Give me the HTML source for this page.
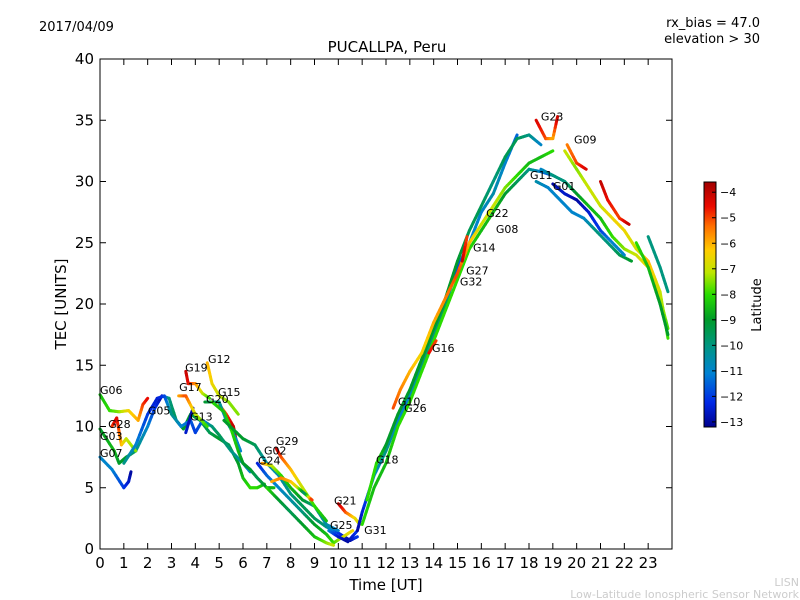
<!DOCTYPE html>
<html><head><meta charset="utf-8"><style>
body{margin:0;background:#fff}
svg{display:block;font-family:"DejaVu Sans","Liberation Sans",sans-serif}
</style></head><body>
<svg id="chart" width="800" height="600">
<rect width="800" height="600" fill="#fff"/>
<text x="39" y="31" font-size="13">2017/04/09</text>
<text x="760" y="27" font-size="13" text-anchor="end">rx_bias = 47.0</text>
<text x="760" y="43" font-size="13" text-anchor="end">elevation &gt; 30</text>
<text x="387" y="52" font-size="15" text-anchor="middle">PUCALLPA, Peru</text>
<g id="plot"></g>
<rect x="100" y="59" width="572" height="490" fill="none" stroke="#000" stroke-width="1"/>
<g id="axes"></g>
<text x="386" y="590" font-size="15" text-anchor="middle">Time [UT]</text>
<text transform="translate(66,304) rotate(-90)" font-size="15" text-anchor="middle">TEC [UNITS]</text>
<g id="cbar"></g>
<text transform="translate(761,305) rotate(-90)" font-size="13" text-anchor="middle">Latitude</text>
<text x="799" y="586" font-size="11" fill="#ccc" text-anchor="end">LISN</text>
<text x="799" y="598" font-size="11" fill="#ccc" text-anchor="end">Low-Latitude Ionospheric Sensor Network</text>
</svg>
<script>
const xTicks=[0,1,2,3,4,5,6,7,8,9,10,11,12,13,14,15,16,17,18,19,20,21,22,23];
const yTicks=[0,5,10,15,20,25,30,35,40];
const cTicks=[-4,-5,-6,-7,-8,-9,-10,-11,-12,-13];
const latMin=-13.2, latMax=-3.6;
// tracks: each point [time, tec, latitude]
const trackA=[[0,7.5,-11],[0.5,6.5,-11],[1,5,-12],[1.2,5.5,-12.5],[1.3,6.3,-13]];
const trackB=[[0,9.8,-9],[0.6,8,-8.5],[0.8,7,-9],[1.1,7.5,-9],[1.5,8,-10],[2,10,-11],[2.3,11.5,-12],[2.6,12.5,-13],[2.9,12.3,-10],[3.2,10.5,-9.5],[3.5,9.8,-9],[3.8,11,-9],[4.2,10.5,-9.5],[4.6,9.5,-9.5],[5,9,-9],[5.4,8.5,-9.5],[5.8,7,-9],[6,5.8,-8.5],[6.3,5,-8],[6.6,5,-8],[6.9,5.3,-8.5]];
const trackC=[[0,12.6,-8.5],[0.4,11.3,-8],[0.8,11.2,-7.5],[1.2,11.3,-6.5],[1.6,10.5,-6],[1.8,11.8,-5],[2.0,12.3,-4.5]];
const trackD=[[0.5,10,-5],[0.7,10.7,-4.3],[0.9,8.5,-6],[1.1,9,-7],[1.5,8,-7.5]];
const trackE=[[1,7,-10],[1.5,8.5,-11],[2,11,-12],[2.4,12.3,-12.5],[2.7,12.5,-12],[3,11,-10],[3.4,10,-11],[3.8,10.5,-11.5],[4.0,9.5,-12],[4.3,10.5,-11.5],[4.7,10,-10],[5,9.3,-9.5],[5.5,8,-10],[6,7,-10.5],[6.3,6.3,-11]];
const trackG13=[[3.6,9.5,-12.5],[3.9,11.5,-13]];
const trackG17=[[3.3,12.5,-6],[3.6,12.5,-5],[4,11,-7],[4.5,10,-8]];
const trackG19=[[3.6,14.5,-4],[3.7,13.5,-4.5],[4,13.5,-5.5],[4.3,12.7,-7],[4.6,12.3,-8]];
const trackG12=[[4.5,15.2,-6],[4.7,13.5,-6.5],[5,12.5,-7],[5.4,12,-7.5],[5.8,11,-7.5]];
const trackG15=[[5,11.8,-6],[5.3,11,-5],[5.6,10,-4],[5.7,9,-4]];
const trackG20a=[[4.4,12,-9],[5,12,-10],[5.3,10.5,-11],[5.7,9,-11],[5.9,8,-11]];
const trackG20b=[[4.7,12,-8],[5.2,11.2,-8.5],[5.5,9.8,-8],[5.8,8,-8.5],[6,7,-9],[6.3,6.5,-9],[6.6,5.8,-9.5],[7,5,-9],[7.3,5,-8.5]];
const trackF=[[5.2,10.5,-9],[6,9,-9],[6.5,8.5,-9.5],[7,7,-10.5],[7.5,6,-10.5],[8,4.5,-10],[8.5,3.5,-9.5],[9,2.5,-9.5],[9.5,1.8,-10],[10,1.3,-12],[10.5,0.7,-13],[10.8,1,-12]];
const trackG24=[[6.6,7,-12.5],[7,6,-11.5],[7.5,5,-11],[8,4,-10.5],[8.5,3,-10],[9,2,-9],[9.5,1.2,-8.5],[9.8,0.5,-8],[10.2,1,-7],[10.6,1.5,-6.5]];
const trackG02=[[6.8,7,-5.5],[7.2,6.8,-7],[7.6,6,-8],[8,5,-8.5],[8.5,4,-9],[9,3.5,-10],[9.5,2,-10.5],[10,1.5,-11]];
const trackG29=[[7.4,8.2,-4],[7.6,7.5,-5],[8,6.5,-6],[8.5,5,-7],[9,3.5,-8],[9.5,2.3,-8.5]];
const trackH=[[7.2,5.5,-6],[7.6,5.8,-5.5],[8,5.5,-6],[8.3,5,-7],[8.6,4.5,-10],[8.9,4,-4.5]];
const trackI=[[7,5,-8],[7.5,4,-9],[8,3,-9.5],[8.5,2,-9],[9,1,-8.5],[9.5,0.5,-7.5],[9.8,0.3,-7]];
const trackG21=[[10,3.7,-4],[10.3,3,-5],[10.7,2.5,-6.5],[10.9,2,-7]];
const trackG25=[[9.6,1.5,-11],[10,1,-12.5],[10.4,0.6,-13],[10.8,1.5,-12]];
const trackR1=[[10.8,1.5,-13],[11,3,-12.5],[11.5,6,-11],[12,8,-10],[12.5,10.5,-11],[13,12.5,-11],[13.5,15,-10],[14,17.5,-10],[14.5,20,-9.5],[15,23,-12],[15.5,25,-11],[16,27.5,-11],[16.5,29,-10.5],[17,31.5,-11],[17.5,33.8,-11.5]];
const trackR2=[[11.2,4,-8],[11.6,7,-8],[12,8.5,-9],[12.5,11,-9],[13,13,-9],[13.5,15.5,-9],[14,18,-9],[14.5,20.5,-9],[15,23.5,-9],[15.5,26,-9.5],[16,28,-9.5],[16.5,30,-10],[17,32,-9.5],[17.5,33.5,-9.5],[18,33.8,-10],[18.5,33,-11]];
const trackR3=[[12.3,11.5,-5],[12.6,13,-5.5],[13,14.5,-6],[13.5,16,-6.5],[14,18.5,-6],[14.5,20.5,-5.5],[15,22.5,-5],[15.5,25,-6],[16,26.5,-7],[16.5,28,-7],[17,29.5,-7.5],[17.5,30.5,-8],[18,31.5,-8.5],[18.5,32,-8.5],[19,32.5,-8]];
const trackR4=[[11,2,-8],[11.5,5,-8.5],[12,7,-8.5],[12.5,10,-8],[13,12,-8],[13.5,14.5,-8],[14,17,-8],[14.5,19.5,-8],[15,22,-8],[15.5,24.5,-8],[16,26,-8.5],[16.5,27.5,-8.5],[17,29,-9],[17.5,30,-9.5],[18,31,-10],[18.5,30.8,-11],[19,30.5,-12]];
const trackG16=[[13.8,16,-4.5],[14.1,17,-5]];
const trackG32=[[15.2,23.5,-4],[15.4,25.5,-5]];
const trackG23=[[18.3,35,-4.3],[18.7,33.5,-5],[19,33.5,-6],[19.2,35.3,-4]];
const trackG09=[[19.6,33,-5.5],[20,31.5,-5],[20.4,31,-4.3]];
const trackD1=[[19,29.8,-13],[19.5,29,-12.5],[20,28.5,-13],[20.5,27.5,-12.5],[21,26,-12],[21.5,25,-11],[22,24,-11]];
const trackD2=[[18.3,30,-10.5],[18.8,29.5,-11],[19.3,28.5,-11],[19.8,27.5,-11],[20.3,27,-11],[20.8,26,-10],[21.3,25,-10],[21.8,24,-9.5],[22.3,23.5,-9]];
const trackD3=[[18.5,31,-11],[19,30.5,-10],[19.5,30,-10],[20,29,-9],[20.5,28,-8.5],[21,27,-8.5],[21.5,25.5,-8],[22,24.5,-7.5],[22.5,24,-7],[23,23,-6.5],[23.3,22,-6],[23.83,18,-8]];
const trackD4=[[19.5,32.5,-7],[20,31,-7.5],[20.5,29.5,-7],[21,28,-7],[21.5,27,-6.5],[22,26,-6.5],[22.5,24.5,-7],[23,23.5,-6],[23.5,21,-7],[23.83,17.2,-8]];
const trackRed=[[21,30,-4],[21.3,28.5,-4.5],[21.8,27,-5],[22.2,26.5,-4]];
const trackT=[[23,25.5,-10],[23.5,23,-10],[23.83,21,-10]];
const trackGr=[[22.5,25,-8],[23,23,-8.5],[23.5,20,-9],[23.83,17.5,-9]];
const tracks=[trackA,trackB,trackC,trackD,trackE,trackG13,trackG17,trackG19,trackG12,trackG15,trackG20a,trackG20b,trackF,trackG24,trackG02,trackG29,trackH,trackI,trackG21,trackG25,trackR1,trackR2,trackR4,trackR3,trackG16,trackG32,trackG23,trackG09,trackD2,trackD1,trackD3,trackD4,trackRed,trackT,trackGr];
const labelNames=["G06","G28","G03","G07","G05","G19","G12","G17","G20","G15","G13","G29","G02","G24","G21","G25","G31","G18","G10","G26","G16","G14","G27","G32","G22","G08","G23","G09","G11","G01"];
const labelT=[0,0.34,0,0,2.01,3.57,4.53,3.32,4.45,4.95,3.78,7.38,6.88,6.63,9.82,9.65,11.08,11.58,12.5,12.76,13.93,15.65,15.36,15.1,16.2,16.61,18.5,19.89,18.04,19.0];
const labelV=[12.65,9.88,8.9,7.5,11.0,14.5,15.2,12.9,11.9,12.5,10.5,8.5,7.7,6.9,3.65,1.63,1.22,7.0,11.7,11.2,16.1,24.3,22.4,21.5,27.1,25.8,35.0,33.1,30.2,29.3];

const NS="http://www.w3.org/2000/svg";
const X=t=>100+t*572/24, Y=v=>549-v*490/40;
const stops=[[0,0,0,140],[0.1,0,40,230],[0.22,0,130,210],[0.33,0,150,130],[0.44,0,155,40],[0.54,40,220,0],[0.63,190,230,0],[0.72,255,205,0],[0.82,255,110,0],[0.9,235,10,0],[1,160,0,0]];
function cmap(v){v=Math.max(0,Math.min(1,v));
 for(let i=0;i<stops.length-1;i++){const a=stops[i],b=stops[i+1];if(v<=b[0]){const f=(v-a[0])/(b[0]-a[0]);
  return `rgb(${Math.round(a[1]+(b[1]-a[1])*f)},${Math.round(a[2]+(b[2]-a[2])*f)},${Math.round(a[3]+(b[3]-a[3])*f)})`;}}
 return 'rgb(160,0,0)';}
const latColor=l=>cmap((l-latMin)/(latMax-latMin));
function mk(tag,attrs,parent){const e=document.createElementNS(NS,tag);for(const k in attrs)e.setAttribute(k,attrs[k]);parent.appendChild(e);return e;}
const plot=document.getElementById('plot');
tracks.forEach((tr,ti)=>{
 const g=mk('g',{},plot);
 
 
 for(let i=0;i<tr.length-1;i++){
  const n=6;
  for(let k=0;k<n;k++){
   const a=k/n,b=(k+1)/n,p=tr[i],q=tr[i+1];
   const l=mk('line',{x1:X(p[0]+(q[0]-p[0])*a),y1:Y(p[1]+(q[1]-p[1])*a),x2:X(p[0]+(q[0]-p[0])*b),y2:Y(p[1]+(q[1]-p[1])*b),stroke:latColor(p[2]+(q[2]-p[2])*(a+b)/2),'stroke-width':3,'stroke-linecap':'round'},g);
   
   
  }
 }
});
labelNames.forEach((n,i)=>{
 const t=mk('text',{x:X(labelT[i]),y:Y(labelV[i]),'font-size':11},plot);
 t.textContent=n;
 
 
});
const axes=document.getElementById('axes');
xTicks.forEach(v=>{
 mk('line',{x1:X(v),x2:X(v),y1:549,y2:543,stroke:'#000'},axes);
 mk('line',{x1:X(v),x2:X(v),y1:59,y2:65,stroke:'#000'},axes);
 const t=mk('text',{x:X(v),y:568,'font-size':15,'text-anchor':'middle'},axes);
 t.textContent=v;
 
 
});
yTicks.forEach(v=>{
 mk('line',{x1:100,x2:106,y1:Y(v),y2:Y(v),stroke:'#000'},axes);
 mk('line',{x1:672,x2:666,y1:Y(v),y2:Y(v),stroke:'#000'},axes);
 const t=mk('text',{x:94,y:Y(v)+5,'font-size':15,'text-anchor':'end'},axes);
 t.textContent=v;
 
 
});
const cb=document.getElementById('cbar');
const cTop=182,cBot=427,CY=l=>cTop+(latMax-l)/(latMax-latMin)*(cBot-cTop);
for(let y=cTop;y<cBot;y++){mk('rect',{x:704,y:y,width:12,height:1.2,fill:latColor(latMax-(y-cTop+0.5)/(cBot-cTop)*(latMax-latMin))},cb);}
const cr=mk('rect',{x:704,y:cTop,width:12,height:cBot-cTop,fill:'none',stroke:'#000'},cb);


cTicks.forEach(v=>{
 mk('line',{x1:712,x2:716,y1:CY(v),y2:CY(v),stroke:'#000'},cb);
 const t=mk('text',{x:720,y:CY(v)+4,'font-size':11},cb);
 t.textContent='\u2212'+Math.abs(v);
 
 
});
</script>
</body></html>
